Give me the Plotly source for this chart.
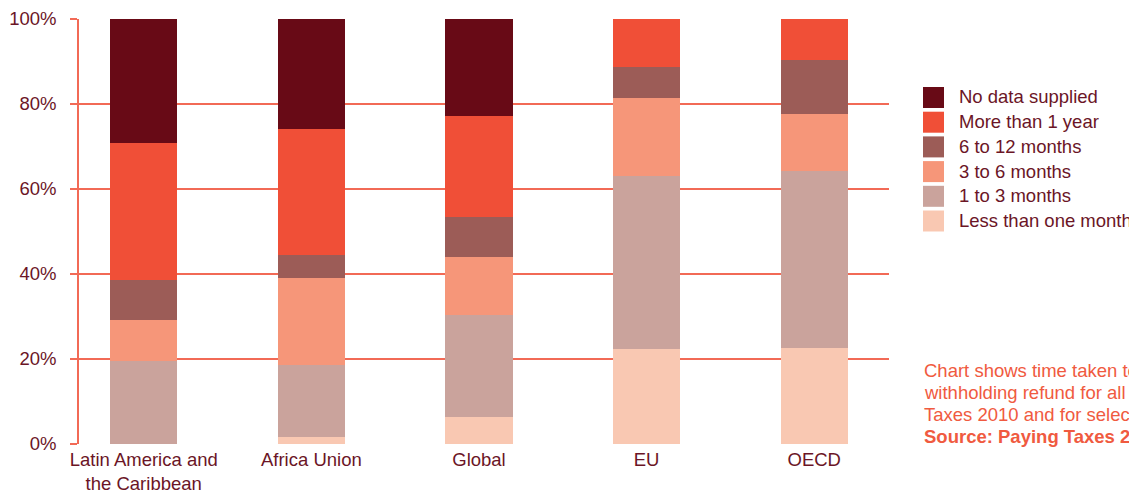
import plotly.graph_objects as go

categories = ["Latin America and<br>the Caribbean", "Africa Union", "Global", "EU", "OECD"]
series_names = ["Less than one month", "1 to 3 months", "3 to 6 months",
                "6 to 12 months", "More than 1 year", "No data supplied"]
less_than_one_month = [0.0, 1.7, 6.4, 22.4, 22.6]
one_to_three_months = [19.5, 16.9, 24.0, 40.7, 41.6]
three_to_six_months = [9.7, 20.5, 13.6, 18.3, 13.4]
six_to_twelve_months = [9.4, 5.4, 9.4, 7.3, 12.8]
more_than_one_year = [32.2, 29.6, 23.8, 11.3, 9.6]
no_data_supplied = [29.2, 25.9, 22.8, 0.0, 0.0]
series_values = [less_than_one_month, one_to_three_months, three_to_six_months,
                 six_to_twelve_months, more_than_one_year, no_data_supplied]
series_colors = ["#f9c8b2", "#caa39c", "#f69679", "#9c5c57", "#f04f37", "#680a16"]
y_ticks = [0, 20, 40, 60, 80, 100]
y_tick_labels = ["0%", "20%", "40%", "60%", "80%", "100%"]
note_lines = ["Chart shows time taken to obtain a",
              "withholding refund for all economies in Paying",
              "Taxes 2010 and for selected regions",
              "<b>Source: Paying Taxes 2010</b>"]

W, H = 1137, 495
OFF = 8  # page body margin
L, R, T, B = 79 - OFF, 889 - OFF, 19 - OFF, 444 - OFF
TEXT = "#6b1526"
GRID = "#f26a56"
FONT = "Liberation Sans, Arial, sans-serif"
FS = 18.5

fig = go.Figure()
for name, vals, col in zip(series_names, series_values, series_colors):
    fig.add_trace(go.Bar(x=list(range(len(categories))), y=vals, name=name,
                         marker=dict(color=col, line=dict(width=0)),
                         width=0.4, showlegend=False))

def px_x(px):
    return (px - OFF - L) / (R - L)

def px_y(py):
    return (B - (py - OFF)) / (B - T)

shapes = []
annotations = []
legend_items = list(zip(series_names, series_colors))[::-1]
for i, (name, col) in enumerate(legend_items):
    top = 87 + i * 24.7
    shapes.append(dict(type="rect", xref="paper", yref="paper",
                       x0=px_x(923), x1=px_x(944), y0=px_y(top + 21), y1=px_y(top),
                       fillcolor=col, line=dict(width=0)))
    annotations.append(dict(xref="paper", yref="paper", x=px_x(957), y=px_y(top + 10),
                            xanchor="left", yanchor="middle", showarrow=False,
                            text=name, font=dict(size=FS, color=TEXT, family=FONT)))

for j, line in enumerate(note_lines):
    annotations.append(dict(xref="paper", yref="paper", x=px_x(922), y=px_y(370 + j * 22.3),
                            xanchor="left", yanchor="middle", align="left", showarrow=False,
                            text=line, font=dict(size=FS, color="#f05a40", family=FONT)))

fig.update_layout(
    width=W, height=H,
    margin=dict(l=L, r=W - R, t=T, b=H - B, pad=0),
    paper_bgcolor="white", plot_bgcolor="white",
    barmode="stack",
    font=dict(family=FONT, size=FS, color=TEXT),
    shapes=shapes, annotations=annotations,
    xaxis=dict(range=[-0.386, 4.446], tickmode="array", automargin=False,
               tickvals=list(range(len(categories))), ticktext=categories,
               showgrid=False, zeroline=False, showline=False, ticks="",
               ticklabelstandoff=2,
               tickfont=dict(size=FS, color=TEXT, family=FONT)),
    yaxis=dict(range=[0, 100], tickmode="array", tickvals=y_ticks, ticktext=y_tick_labels,
               automargin=False,
               showgrid=True, gridcolor=GRID, gridwidth=1.5, zeroline=False,
               showline=True, linecolor=GRID, linewidth=1.5,
               ticks="outside", ticklen=7, tickcolor=GRID, tickwidth=1.5,
               ticklabelstandoff=10,
               tickfont=dict(size=FS, color=TEXT, family=FONT)),
)
fig.write_html("out.html")
